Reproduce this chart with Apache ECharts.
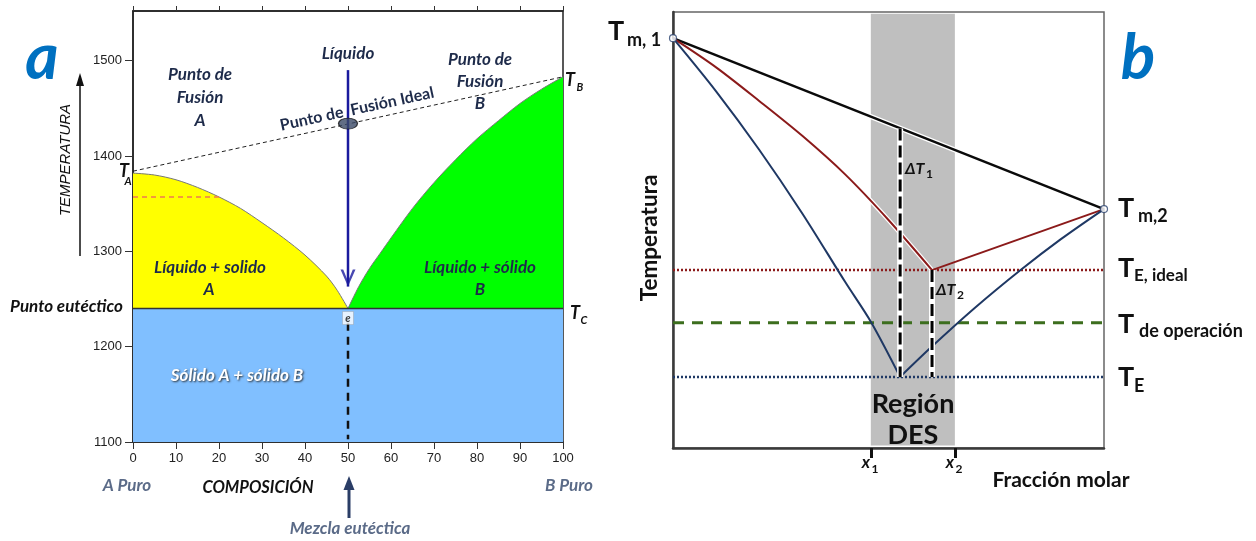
<!DOCTYPE html>
<html><head><meta charset="utf-8">
<script src="https://cdn.jsdelivr.net/npm/echarts@6/dist/echarts.min.js"></script>
<style>html,body{margin:0;padding:0;background:#fff}#c{width:1256px;height:541px}</style>
</head><body><div id="c"></div>
<script>
// ---------- Panel a data ----------
const compTicks = [0,10,20,30,40,50,60,70,80,90,100];
const tempTicks = [1100,1200,1300,1400,1500];
const liquidusA = [[0,1382],[5,1380],[10,1375],[15,1367],[20,1357],[25,1345],[30,1330],[35,1314],[40,1296],[45,1274],[47.5,1259],[50,1240]];
const liquidusB = [[50,1240],[52.5,1263],[55,1282],[57.5,1298],[60,1314],[65,1345],[70,1372],[75,1396],[80,1418],[85,1437],[90,1455],[95,1470],[100,1483]];
const eutecticLine = [[0,1240],[100,1240]];
const idealLine = [[0,1384],[100,1483]];
const redDashA = [[0,1357],[20,1357]];
const arrowLiquido = [[50,1490],[50,1263]];
const idealPoint = [[50,1434]];
const eutecticDrop = [[50,1225],[50,1103]];
const eutecticPoint = [[50,1230]];

// ---------- Panel b data ----------
const meltPoints = [[0,94.0],[100,54.8]];          // Tm,1 , Tm,2
const levels = [40.8, 28.7, 16.3];                  // TE ideal, T operación, TE
const desRegion = [45.9, 65.4];                     // x1, x2
const redLeft = [[0,94.0],[10,87.3],[20,79.6],[30,71.6],[40,62.7],[50,52.3],[60.1,40.8]];
const redRight = [[60.1,40.8],[100,54.8]];
const blueLeft = [[0,94.0],[10,81.8],[20,68.4],[30,53.8],[40,38.0],[46,28.8],[52.7,16.3]];
const blueRight = [[52.7,16.3],[60,23.2],[70,32.1],[80.5,40.7],[90,47.9],[100,54.8]];
const deltaT1 = [[52.7,73.3],[52.7,16.3]];
const deltaT2 = [[60.1,40.8],[60.1,16.3]];

const NAVY = '#1e2b4a';
const chart = echarts.init(document.getElementById('c'));

function txt(x, y, text, font, fill, align, extra) {
  return Object.assign({
    type: 'text', x: x, y: y, z: 100,
    style: { text: text, font: font, fill: fill || '#111',
      align: align || 'center', verticalAlign: 'middle',
      textAlign: align || 'center', textVerticalAlign: 'middle' }
  }, extra || {});
}
const IB = 'italic bold 17px Lato';

function seg(data, color, width, type, z, ax) {
  return { type: 'line', xAxisIndex: ax, yAxisIndex: ax === 0 ? 0 : 1, data: data,
    symbol: 'none', clip: false, z: z, silent: true, animation: false,
    lineStyle: { color: color, width: width, type: type || 'solid', cap: 'butt' } };
}
function curve(s) { return Object.assign(s, { smooth: 0.3 }); }

const series = [
  // panel a regions
  Object.assign(curve(seg(liquidusA, '#777', 1, 'solid', 2, 0)), { areaStyle: { color: '#ffff00', opacity: 1 } }),
  Object.assign(curve(seg(liquidusB, '#777', 1, 'solid', 2, 0)), { areaStyle: { color: '#00ff00', opacity: 1 } }),
  Object.assign(seg(eutecticLine, '#333', 1.5, 'solid', 3, 0), { areaStyle: { color: '#80bfff', opacity: 1 } }),
  seg(redDashA, '#f07a50', 1.5, [5, 4], 4, 0),
  seg(idealLine, '#222', 1, [4, 3], 4, 0),
  seg(arrowLiquido, '#1a1a9e', 2.5, 'solid', 5, 0),
  { type: 'scatter', xAxisIndex: 0, yAxisIndex: 0, data: [arrowLiquido[1]], z: 6, silent: true, animation: false,
    symbol: 'path://M0,0 L50,100 L100,0 L82,0 L50,68 L18,0 Z', symbolSize: [15, 17], symbolOffset: [0, '-50%'],
    itemStyle: { color: '#1a1a9e' } },
  { type: 'scatter', xAxisIndex: 0, yAxisIndex: 0, data: idealPoint, z: 7, silent: true, animation: false,
    symbol: 'circle', symbolSize: [19, 11], itemStyle: { color: '#3b4a66', borderColor: '#111', borderWidth: 1 } },
  seg(eutecticDrop, '#111', 2.5, [8, 6], 5, 0),
  { type: 'scatter', xAxisIndex: 0, yAxisIndex: 0, data: eutecticPoint, z: 7, silent: true, animation: false,
    symbol: 'rect', symbolSize: [11, 13], itemStyle: { color: '#fff', borderColor: '#999', borderWidth: 0.5 },
    label: { show: true, position: 'inside', formatter: 'e', color: '#111', fontStyle: 'italic', fontWeight: 'bold', fontSize: 11, fontFamily: 'Lato' } },

  // panel b
  Object.assign(seg([[desRegion[0], 0.6], [desRegion[1], 99.6]], 'rgba(0,0,0,0)', 0, 'solid', 1, 1), {
    markArea: { silent: true, itemStyle: { color: '#bfbfbf' },
      data: [[{ xAxis: desRegion[0], yAxis: 0.6 }, { xAxis: desRegion[1], yAxis: 99.6 }]] } }),
  seg([[0, levels[0]], [100, levels[0]]], '#8b1a1a', 2.5, [2, 2], 3, 1),
  seg([[0, levels[1]], [100, levels[1]]], '#3c6e1e', 3, [11, 8], 3, 1),
  seg([[0, levels[2]], [100, levels[2]]], '#1f3864', 2.5, [2, 2], 3, 1),
  seg(meltPoints, '#ffffff', 5, 'solid', 4, 1),
  seg(meltPoints, '#0a0a0a', 2.5, 'solid', 5, 1),
  curve(seg(redLeft, '#ffffff', 4.5, 'solid', 4, 1)),
  curve(seg(redLeft, '#8b1a1a', 2, 'solid', 5, 1)),
  seg(redRight, '#8b1a1a', 2, 'solid', 5, 1),
  curve(seg(blueLeft, '#1f3864', 2, 'solid', 5, 1)),
  curve(seg(blueRight, '#1f3864', 2, 'solid', 5, 1)),
  seg(deltaT1, '#ffffff', 6, 'solid', 6, 1),
  seg(deltaT1, '#000', 3, [12, 5], 7, 1),
  seg(deltaT2, '#ffffff', 6, 'solid', 6, 1),
  seg(deltaT2, '#000', 3, [12, 5], 7, 1),
  { type: 'scatter', xAxisIndex: 1, yAxisIndex: 1, data: meltPoints, z: 8, silent: true, animation: false, clip: false,
    symbol: 'circle', symbolSize: 7, itemStyle: { color: '#fff', borderColor: '#2c4470', borderWidth: 1.2 } }
];

const graphics = [
  // panel a texts
  txt(42, 58, 'a', 'italic bold 64px Lato', '#0070c0'),
  txt(66, 160, 'TEMPERATURA', 'italic 15px "Liberation Sans"', '#111', 'center', { rotation: Math.PI / 2 }),
  { type: 'line', z: 100, shape: { x1: 80, y1: 256, x2: 80, y2: 84 }, style: { stroke: '#111', lineWidth: 1.5 } },
  { type: 'polygon', z: 100, shape: { points: [[80, 73], [76, 86], [84, 86]] }, style: { fill: '#111' } },
  txt(123, 307, 'Punto eutéctico', IB, '#111', 'right'),
  txt(258, 488, 'COMPOSICIÓN', 'italic bold 16.5px Lato', '#111'),
  txt(127, 486, 'A Puro', IB, '#5b6b88'),
  txt(569, 486, 'B Puro', IB, '#5b6b88'),
  txt(350, 529, 'Mezcla eutéctica', IB, '#5b6b88'),
  { type: 'line', z: 100, shape: { x1: 349, y1: 518, x2: 349, y2: 488 }, style: { stroke: '#2a3d66', lineWidth: 3 } },
  { type: 'polygon', z: 100, shape: { points: [[349, 476], [343.5, 490], [354.5, 490]] }, style: { fill: '#2a3d66' } },
  txt(124, 171, 'T', 'italic bold 18px Lato', '#111'),
  txt(128, 181, 'A', 'italic bold 11px Lato', '#111'),
  txt(570, 80, 'T', 'italic bold 18px Lato', '#111'),
  txt(580, 87, 'B', 'italic bold 11px Lato', '#111'),
  txt(575, 313, 'T', 'italic bold 18px Lato', '#111'),
  txt(584, 320, 'C', 'italic bold 11px Lato', '#111'),
  txt(348, 54, 'Líquido', IB, NAVY),
  txt(200, 75, 'Punto de', IB, NAVY),
  txt(200, 98, 'Fusión', IB, NAVY),
  txt(200, 121, 'A', IB, NAVY),
  txt(480, 60, 'Punto de', IB, NAVY),
  txt(480, 82, 'Fusión', IB, NAVY),
  txt(480, 104, 'B', IB, NAVY),
  txt(210, 268, 'Líquido + solido', IB, NAVY),
  txt(209, 290, 'A', IB, NAVY),
  txt(480, 268, 'Líquido + sólido', IB, NAVY),
  txt(480, 290, 'B', IB, NAVY),
  { type: 'text', x: 237, y: 376, z: 100, style: { text: 'Sólido A + sólido B', font: IB, fill: '#ffffff',
      align: 'center', verticalAlign: 'middle', textAlign: 'center', textVerticalAlign: 'middle',
      textShadowColor: 'rgba(40,40,40,0.9)', textShadowBlur: 2, textShadowOffsetX: 1, textShadowOffsetY: 1 } },
  txt(357, 109, 'Punto de  Fusión Ideal', 'bold 16px Lato', NAVY, 'center', { rotation: 0.213 }),

  // panel b texts
  txt(1138, 58, 'b', 'italic bold 64px Lato', '#0070c0'),
  txt(616, 31, 'T', 'bold 27px Lato', '#111'),
  txt(627, 40, 'm, 1', 'bold 18px Lato', '#111', 'left'),
  txt(1118, 208, 'T', 'bold 27px Lato', '#111', 'left'),
  txt(1138, 216, 'm,2', 'bold 18px Lato', '#111', 'left'),
  txt(1118, 268, 'T', 'bold 27px Lato', '#111', 'left'),
  txt(1134, 276, 'E, ideal', 'bold 17px Lato', '#111', 'left'),
  txt(1118, 324, 'T', 'bold 27px Lato', '#111', 'left'),
  txt(1139, 331, 'de operación', 'bold 18px Lato', '#111', 'left'),
  txt(1118, 377, 'T', 'bold 27px Lato', '#111', 'left'),
  txt(1134, 386, 'E', 'bold 18px Lato', '#111', 'left'),
  txt(650, 238, 'Temperatura', 'bold 22.5px Lato', '#111', 'center', { rotation: Math.PI / 2 }),
  txt(913, 404, 'Región', 'bold 27px Lato', '#111'),
  txt(913, 435, 'DES', 'bold 27px Lato', '#111'),
  txt(1061, 480, 'Fracción molar', 'bold 21px Lato', '#111'),
  txt(866, 463, 'x', 'italic bold 17px Lato', '#111'),
  txt(875, 469, '1', 'bold 12px Lato', '#111'),
  txt(950, 463, 'x', 'italic bold 17px Lato', '#111'),
  txt(959, 469, '2', 'bold 12px Lato', '#111'),
  txt(905, 169, 'ΔT', 'italic bold 16px Lato', '#111', 'left'),
  txt(926, 174, '1', 'bold 12px Lato', '#111', 'left'),
  txt(936, 290, 'ΔT', 'italic bold 16px Lato', '#111', 'left'),
  txt(957, 295, '2', 'bold 12px Lato', '#111', 'left')
];

const tickFont = { color: '#222', fontSize: 13, fontFamily: 'Liberation Sans' };

chart.setOption({
  animation: false,
  backgroundColor: '#fff',
  grid: [
    { left: 133, top: 11, width: 430, height: 431, show: true, borderColor: '#222', borderWidth: 1.5, backgroundColor: 'transparent' },
    { left: 673, top: 12, width: 431, height: 436, show: true, borderColor: '#666', borderWidth: 1.5, backgroundColor: 'transparent' }
  ],
  xAxis: [
    { type: 'value', gridIndex: 0, min: 0, max: 100, interval: 10, position: 'bottom',
      axisLine: { show: true, onZero: false, lineStyle: { color: '#222', width: 1.5 } },
      axisTick: { show: true, length: 7, lineStyle: { color: '#333' } },
      axisLabel: Object.assign({ margin: 10, formatter: v => compTicks.includes(v) ? String(v) : '' }, tickFont),
      splitLine: { show: false } },
    { type: 'value', gridIndex: 1, min: 0, max: 100, position: 'bottom',
      axisLine: { show: true, onZero: false, lineStyle: { color: '#3a3a3a', width: 2.5 } },
      axisTick: { show: true, customValues: desRegion, length: 10, lineStyle: { color: '#111', width: 3 } },
      axisLabel: { show: false }, splitLine: { show: false } },
    { type: 'value', gridIndex: 0, min: 0, max: 100, interval: 10, position: 'top',
      axisLine: { show: true, onZero: false, lineStyle: { color: '#222', width: 1.5 } },
      axisTick: { show: true, length: 5, lineStyle: { color: '#333' } },
      axisLabel: { show: false }, splitLine: { show: false } }
  ],
  yAxis: [
    { type: 'value', gridIndex: 0, min: 1100, max: 1552, interval: 100,
      axisLine: { show: true, onZero: false, lineStyle: { color: '#222', width: 1.5 } },
      axisTick: { show: true, length: 8, customValues: tempTicks, lineStyle: { color: '#333' } },
      axisLabel: Object.assign({ margin: 11, customValues: tempTicks, formatter: v => tempTicks.includes(v) ? String(v) : '' }, tickFont),
      splitLine: { show: false } },
    { type: 'value', gridIndex: 1, min: 0, max: 100,
      axisLine: { show: true, onZero: false, lineStyle: { color: '#3a3a3a', width: 2.5 } },
      axisTick: { show: false }, axisLabel: { show: false }, splitLine: { show: false } }
  ],
  series: series,
  graphic: graphics
});
</script>
</body></html>
